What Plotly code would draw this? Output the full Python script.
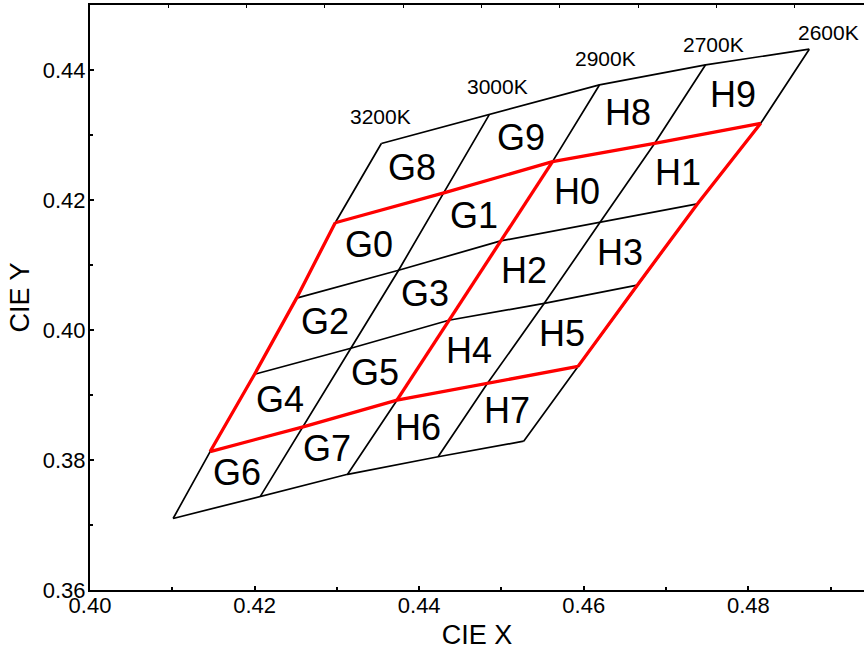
import plotly.graph_objects as go

# ---- data: chromaticity coordinates of the bin grid (isotherm lines, top -> bottom) ----
cct_labels = ["3200K", "3000K", "2900K", "2700K", "2600K"]
iso_x = [
    [0.4354, 0.4298, 0.4251, 0.4200, 0.4146, 0.4101],
    [0.4485, 0.4430, 0.4375, 0.4317, 0.4259, 0.4207],
    [0.4619, 0.4562, 0.4499, 0.4436, 0.4373, 0.4313],
    [0.4748, 0.4686, 0.4620, 0.4552, 0.4483, 0.4423],
    [0.4874, 0.4815, 0.4738, 0.4665, 0.4593, 0.4527],
]
iso_y = [
    [0.4287, 0.4165, 0.4049, 0.3932, 0.3813, 0.3710],
    [0.4331, 0.4211, 0.4092, 0.3972, 0.3851, 0.3744],
    [0.4377, 0.4259, 0.4137, 0.4015, 0.3892, 0.3778],
    [0.4408, 0.4287, 0.4166, 0.4041, 0.3918, 0.3805],
    [0.4432, 0.4318, 0.4194, 0.4069, 0.3944, 0.3829],
]
bin_names = [
    ["G8", "G9", "H8", "H9"],
    ["G0", "G1", "H0", "H1"],
    ["G2", "G3", "H2", "H3"],
    ["G4", "G5", "H4", "H5"],
    ["G6", "G7", "H6", "H7"],
]
red_levels = [1, 4]          # highlighted horizontal boundaries
red_isotherms = [0, 2, 4]    # highlighted isotherm boundaries

x_ticks = [0.40, 0.42, 0.44, 0.46, 0.48]
y_ticks = [0.36, 0.38, 0.40, 0.42, 0.44]

n_iso = len(iso_x)
n_lev = len(iso_x[0])

# ---- build line traces ----
bx, by = [], []
for j in range(n_lev):
    for i in range(n_iso):
        bx.append(iso_x[i][j]); by.append(iso_y[i][j])
    bx.append(None); by.append(None)
for i in range(n_iso):
    bx += iso_x[i] + [None]; by += iso_y[i] + [None]

rx, ry = [], []
lo, hi = red_levels
for j in red_levels:
    for i in range(n_iso):
        rx.append(iso_x[i][j]); ry.append(iso_y[i][j])
    rx.append(None); ry.append(None)
for i in red_isotherms:
    rx += iso_x[i][lo:hi + 1] + [None]; ry += iso_y[i][lo:hi + 1] + [None]

fig = go.Figure()
fig.add_trace(go.Scatter(x=bx, y=by, mode="lines", line=dict(color="black", width=1.7),
                         hoverinfo="skip", showlegend=False))
fig.add_trace(go.Scatter(x=rx, y=ry, mode="lines", line=dict(color="#ff0000", width=3.3),
                         hoverinfo="skip", showlegend=False))
# invisible trace to activate the top axis
fig.add_trace(go.Scatter(x=[0], y=[0.36], xaxis="x2", mode="markers",
                         marker=dict(opacity=0), hoverinfo="skip", showlegend=False))

annotations = []
# bin labels at cell centroids
for r, row in enumerate(bin_names):
    for c, name in enumerate(row):
        cx = (iso_x[c][r] + iso_x[c + 1][r] + iso_x[c][r + 1] + iso_x[c + 1][r + 1]) / 4
        cy = (iso_y[c][r] + iso_y[c + 1][r] + iso_y[c][r + 1] + iso_y[c + 1][r + 1]) / 4
        annotations.append(dict(x=cx, y=cy, text=name, showarrow=False,
                                font=dict(size=36, color="black"),
                                xanchor="center", yanchor="middle", yshift=1))
# CCT labels above top vertex of each isotherm
label_shift = [(-1, 27), (8, 28), (6, 26), (8, 20), (19, 17)]
for i, lab in enumerate(cct_labels):
    dx, dy = label_shift[i]
    annotations.append(dict(x=iso_x[i][0], y=iso_y[i][0], text=lab, showarrow=False,
                            font=dict(size=21, color="black"),
                            xanchor="center", yanchor="middle", xshift=dx, yshift=dy))

axis_common = dict(showgrid=False, zeroline=False, showline=True, linecolor="black",
                   linewidth=2, ticks="inside", ticklen=4, tickwidth=1.5, tickcolor="black",
                   tickfont=dict(size=22, color="black"))

fig.update_layout(
    width=864, height=652,
    margin=dict(l=90, r=0, t=5, b=62),
    plot_bgcolor="white", paper_bgcolor="white",
    font=dict(family="Liberation Sans, Arial, sans-serif", color="black"),
    showlegend=False,
    annotations=annotations,
    xaxis=dict(range=[0.40, 0.49405], tickvals=x_ticks,
               ticktext=[f"{v:.2f}" for v in x_ticks], mirror=True,
               ticklabelstandoff=-5,
               minor=dict(dtick=0.01, tick0=0.40, ticks="inside", ticklen=3, tickcolor="black"),
               title=dict(text="CIE X", font=dict(size=27), standoff=8),
               **axis_common),
    yaxis=dict(range=[0.36, 0.45], tickvals=y_ticks,
               ticktext=[f"{v:.2f}" for v in y_ticks], mirror=False,
               ticklabelstandoff=-2,
               minor=dict(dtick=0.01, tick0=0.36, ticks="inside", ticklen=3, tickcolor="black"),
               title=dict(text="CIE Y", font=dict(size=27), standoff=5),
               **axis_common),
    xaxis2=dict(overlaying="x", side="top", range=[0, 774 / 78.3], dtick=1, tick0=0,
                ticks="inside", ticklen=3, tickcolor="black", showticklabels=False,
                showline=False, showgrid=False, zeroline=False),
)

fig.write_html("out.html")
